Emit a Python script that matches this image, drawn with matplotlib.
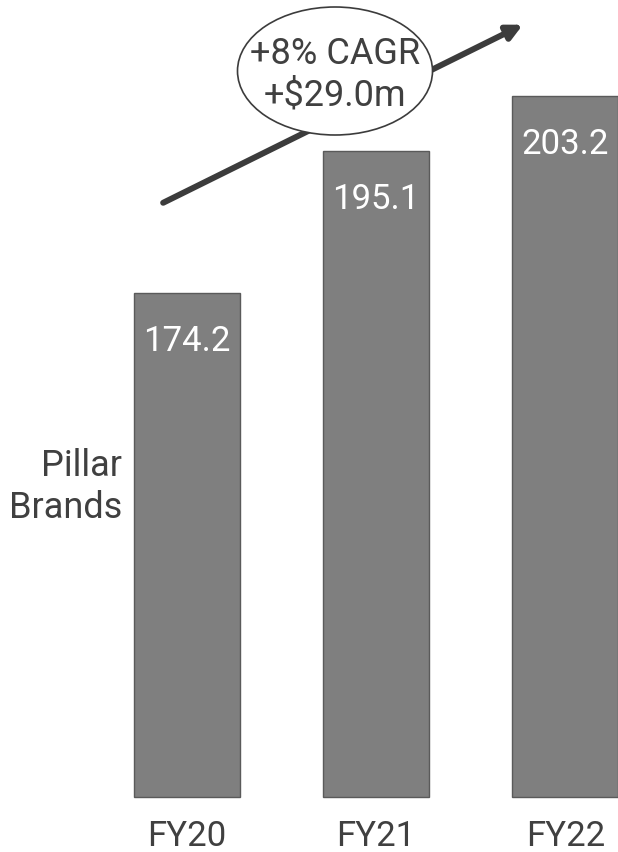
import matplotlib.pyplot as plt
from matplotlib.patches import Ellipse

plt.rcParams["font.family"] = ["Roboto", "DejaVu Sans"]

categorias = ["FY20", "FY21", "FY22"]
valores = [174.2, 195.1, 203.2]
etiquetas = ["174.2", "195.1", "203.2"]
base = 100
texto_cagr = "+8% CAGR\n+$29.0m"
nombre_serie = "Pillar\nBrands"

color_barra = "#7f7f7f"
color_texto = "#404040"

fig = plt.figure(figsize=(6.18, 8.52), dpi=100)
ax = fig.add_axes([0, 0, 1, 1])

posiciones = range(len(categorias))
alturas = [v - base for v in valores]
barras = ax.bar(posiciones, alturas, bottom=base, width=0.56,
                color=color_barra, edgecolor="#5a5a5a", linewidth=1)

for barra, etiqueta in zip(barras, etiquetas):
    ax.annotate(etiqueta, (barra.get_x() + barra.get_width() / 2, barra.get_y() + barra.get_height()),
                xytext=(0, -35), textcoords="offset points",
                ha="center", va="center", color="white", fontsize=25)

for x, cat in zip(posiciones, categorias):
    ax.annotate(cat, (x, base), xytext=(0, -28.5), textcoords="offset points",
                ha="center", va="center", color=color_texto, fontsize=25)

ax.set_xlim(-0.9865, 2.279)
ax.set_ylim(91.9, 217.3)
ax.axis("off")

fig.text(122 / 618, 1 - 487 / 852, nombre_serie, ha="right", va="center",
         multialignment="right", color=color_texto, fontsize=26, linespacing=1.2)

# flecha de crecimiento
ax.annotate("", xy=(0.846, 0.971), xytext=(0.264, 0.762),
            xycoords="figure fraction", textcoords="figure fraction",
            arrowprops=dict(arrowstyle="-|>,head_length=0.9,head_width=0.45",
                            color="#3c3c3c", lw=4.3, shrinkA=0, shrinkB=0))

elipse = Ellipse((335 / 618, 1 - 71 / 852), 195 / 618, 128 / 852,
                 transform=fig.transFigure, facecolor="white",
                 edgecolor="#3c3c3c", linewidth=1.2, zorder=5)
fig.add_artist(elipse)
fig.text(335 / 618, 1 - 75 / 852, texto_cagr, ha="center", va="center",
         color=color_texto, fontsize=26, linespacing=1.2, zorder=6)

fig.savefig("out.png", dpi=100)
